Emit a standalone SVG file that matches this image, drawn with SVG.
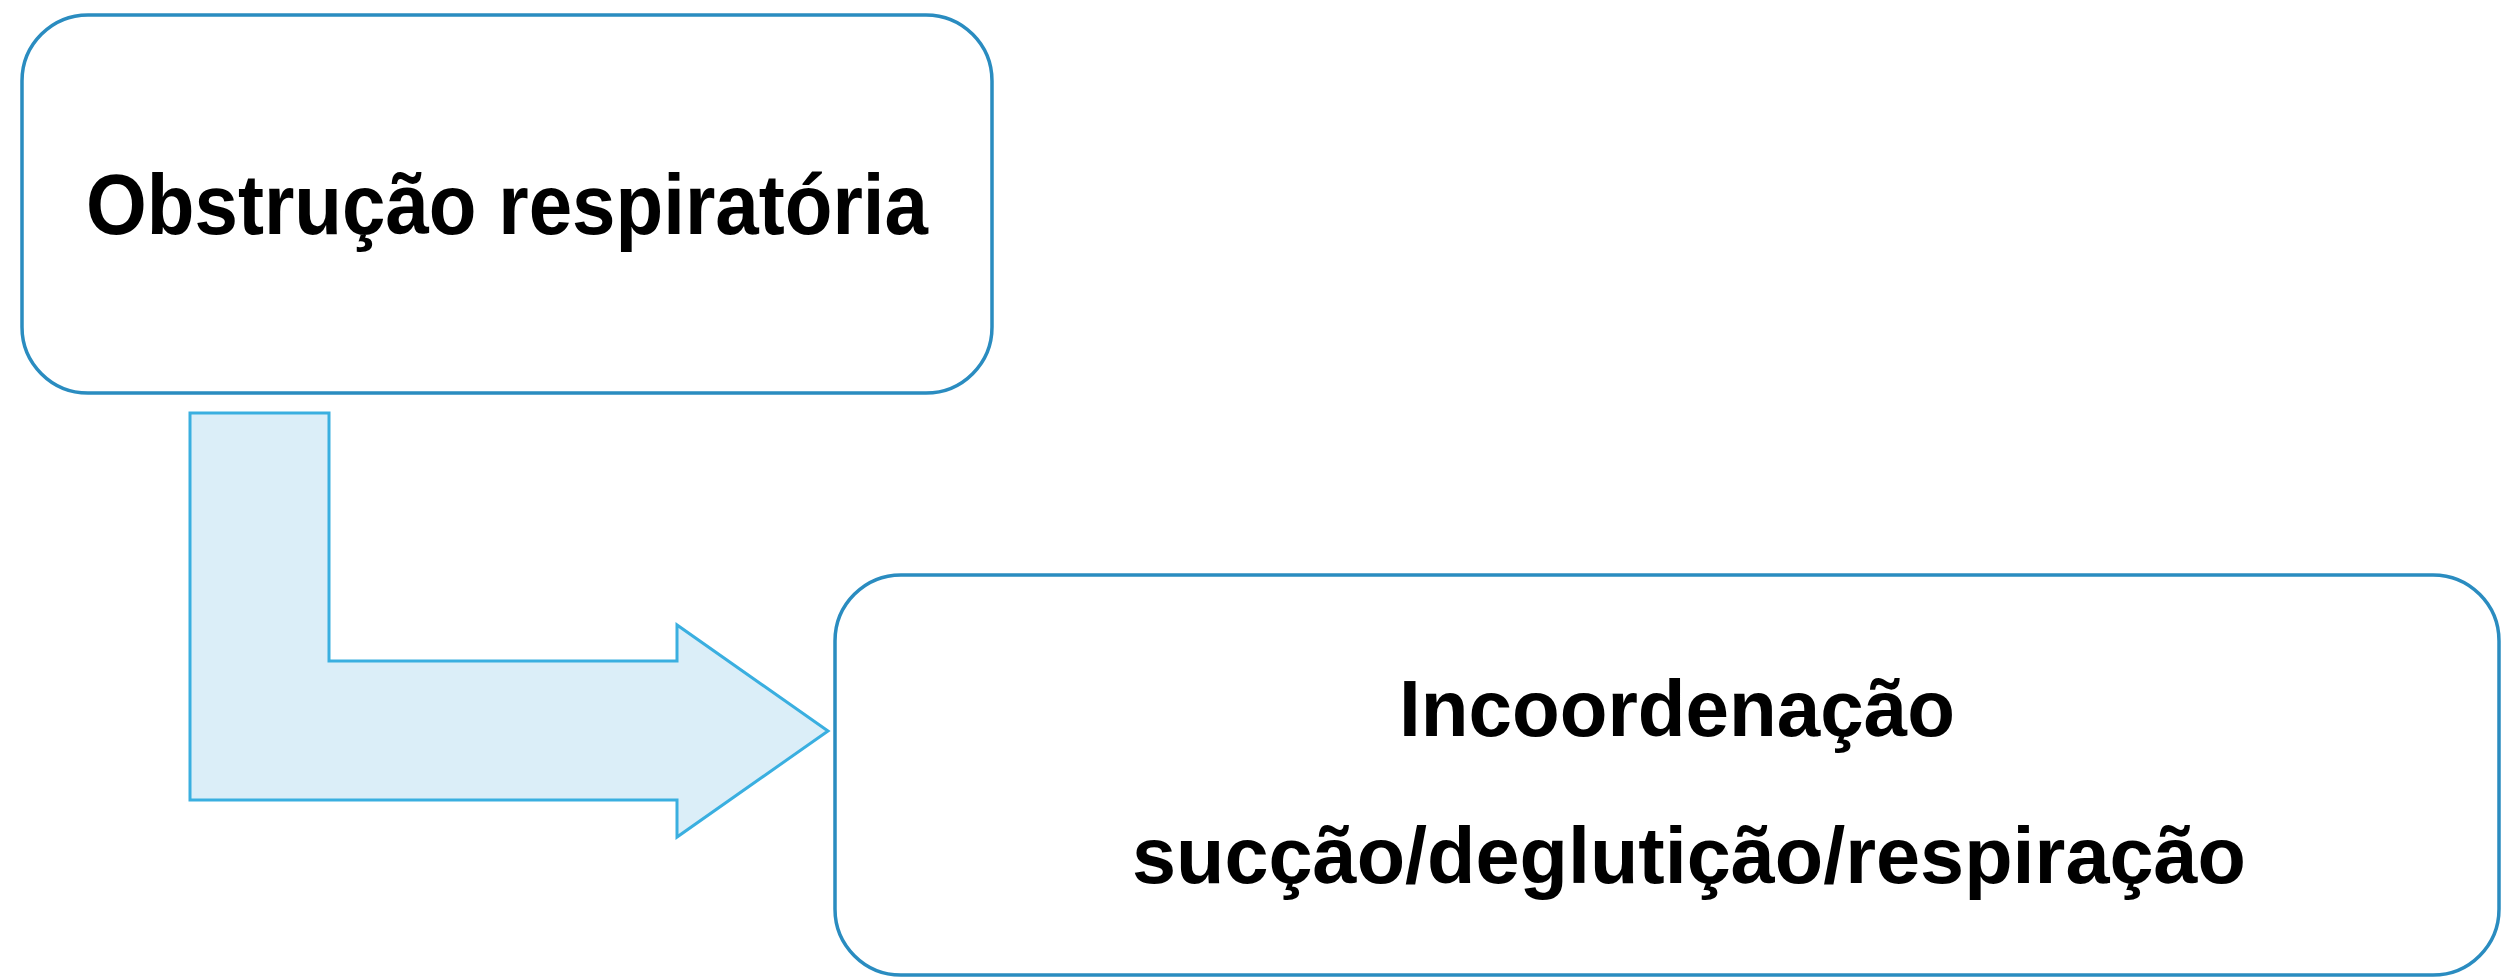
<svg xmlns="http://www.w3.org/2000/svg" width="2501" height="978" viewBox="0 0 2501 978">
<style>
.box{fill:#ffffff;stroke:#2a8cc0;stroke-width:3.5}
.lbl{font-family:"Liberation Sans",Arial,sans-serif;font-weight:bold;fill:#000000}
.arrow{fill:#dbeef8;stroke:#3aafe0;stroke-width:3;stroke-linejoin:miter}
</style>
<rect width="2501" height="978" fill="#ffffff"/>
<g id="connectors">
<path class="arrow" d="M190,413 L329,413 L329,661 L677,661 L677,625 L828,731 L677,837 L677,800 L190,800 Z"/>
</g>
<g id="node-obstrucao">
<rect class="box" x="22" y="15" width="970" height="378" rx="66" ry="66"/>
<text class="lbl" x="507" y="234" font-size="85" text-anchor="middle" textLength="842" lengthAdjust="spacingAndGlyphs">Obstrução respiratória</text>
</g>
<g id="node-incoordenacao">
<rect class="box" x="835" y="575" width="1664" height="400" rx="66" ry="66"/>
<text class="lbl" x="1677" y="736" font-size="79" text-anchor="middle" textLength="556" lengthAdjust="spacingAndGlyphs">Incoordenação</text>
<text class="lbl" x="1689" y="883" font-size="80" text-anchor="middle" textLength="1114" lengthAdjust="spacingAndGlyphs">sucção/deglutição/respiração</text>
</g>
</svg>
